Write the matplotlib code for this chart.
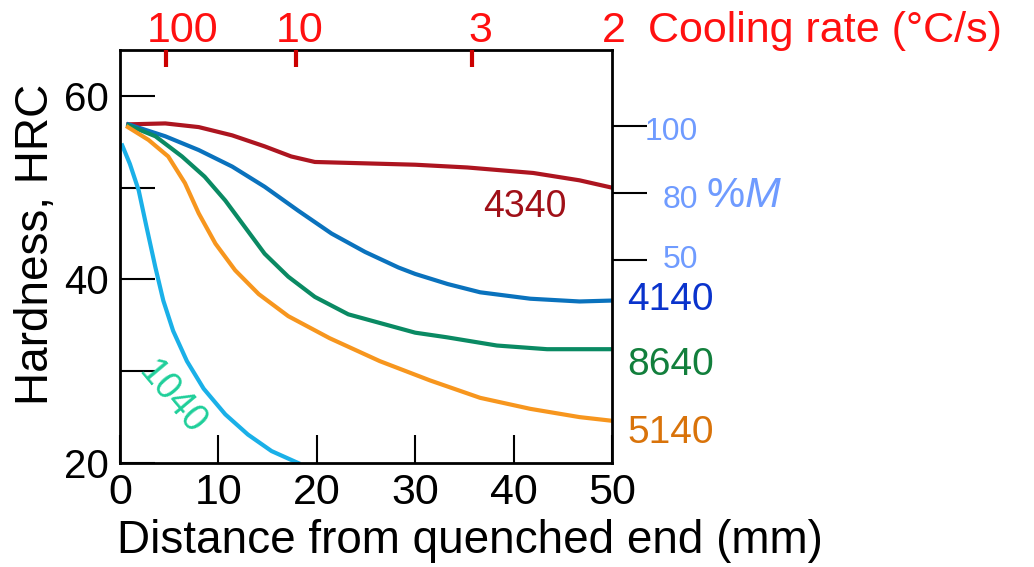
import matplotlib
matplotlib.use('Agg')
import matplotlib.pyplot as plt

plt.rcParams['font.family'] = ['Liberation Sans', 'DejaVu Sans']

# Jominy end-quench curves (distance mm, hardness HRC)
x_4340 = [0.85, 4.6, 8.0, 11.4, 14.7, 17.4, 19.8, 23.2, 30.0, 35.3, 42.0, 46.7, 50.0]
y_4340 = [56.9, 57.0, 56.6, 55.7, 54.5, 53.4, 52.8, 52.7, 52.5, 52.2, 51.6, 50.8, 50.0]

x_4140 = [0.85, 4.6, 8.0, 11.4, 14.7, 18.1, 21.5, 24.9, 28.3, 30.0, 33.3, 36.6, 41.7, 46.7, 50.0]
y_4140 = [56.9, 55.6, 54.1, 52.3, 50.1, 47.5, 45.0, 43.0, 41.3, 40.6, 39.5, 38.6, 37.9, 37.6, 37.7]

x_8640 = [0.85, 3.6, 6.3, 8.6, 10.7, 12.7, 14.7, 17.1, 19.8, 23.2, 26.6, 30.0, 33.2, 38.3, 43.4, 50.0]
y_8640 = [56.8, 55.6, 53.4, 51.2, 48.6, 45.7, 42.8, 40.3, 38.1, 36.2, 35.2, 34.2, 33.7, 32.8, 32.4, 32.4]

x_5140 = [0.8, 2.9, 4.9, 6.6, 8.0, 9.7, 11.7, 14.1, 17.1, 21.3, 26.4, 31.5, 36.6, 41.7, 46.7, 50.0]
y_5140 = [56.6, 55.2, 53.4, 50.5, 47.2, 43.9, 41.0, 38.4, 36.0, 33.6, 31.1, 29.0, 27.1, 25.9, 25.0, 24.6]

x_1040 = [0.23, 1.0, 1.9, 2.7, 3.6, 4.4, 5.4, 6.8, 8.5, 10.7, 13.0, 15.4, 18.1]
y_1040 = [54.6, 52.6, 49.7, 45.7, 41.3, 37.7, 34.4, 31.1, 28.1, 25.3, 23.1, 21.3, 20.0]

# top axis: cooling rate (°C/s) and where its ticks sit along the bar (mm)
cool_pos = [4.7, 17.9, 35.8]
cool_labels = ['100', '10', '3', '2']

# right axis: % martensite and matching hardness
mart_hrc = [56.7, 49.4, 42.1]
mart_labels = ['100', '80', '50']

W, H = 1034, 567
fig = plt.figure(figsize=(W / 100, H / 100), dpi=100)
ax = fig.add_axes([120 / W, 1 - 463 / H, 492 / W, 413 / H])


def ftext(px, py, s, **kw):
    # place a text with pixel coordinates measured from the top-left corner
    return fig.text(px / W, 1 - py / H, s, **kw)


ax.plot(x_4340, y_4340, color='#ad1520', lw=3)
ax.plot(x_4140, y_4140, color='#0a72bd', lw=3)
ax.plot(x_8640, y_8640, color='#0a8a63', lw=3)
ax.plot(x_5140, y_5140, color='#f7961e', lw=3)
ax.plot(x_1040, y_1040, color='#1ab0e8', lw=3)

ax.set_xlim(0, 50)
ax.set_ylim(20, 65)
for s in ax.spines.values():
    s.set_linewidth(2)

ax.set_xticks([0, 10, 20, 30, 40, 50])
ax.set_xticklabels(['0', '10', '20', '30', '40', '50'], fontsize=31)
ax.set_yticks([20, 30, 40, 50, 60])
ax.set_yticklabels(['20', '', '40', '', '60'], fontsize=29)
ax.tick_params(axis='x', direction='in', length=20, width=1.5, pad=7)
ax.tick_params(axis='y', direction='in', length=25, width=1.5, pad=8)

ax.set_xlabel('Distance from quenched end (mm)', fontsize=33)
ax.xaxis.set_label_coords(0.711, -0.135)
ax.set_ylabel('Hardness, HRC', fontsize=33)
ax.yaxis.set_label_coords(-0.126, 0.529)

# top cooling-rate ticks
top = ax.twiny()
top.set_xlim(ax.get_xlim())
top.set_xticks(cool_pos)
top.set_xticklabels([])
top.tick_params(axis='x', direction='in', length=12, width=3, color='#cc0000')
for s in top.spines.values():
    s.set_visible(False)
red = '#ff1010'
for px, lab in zip([183, 300, 480, 614], cool_labels):
    ftext(px, 42, lab, color=red, fontsize=31, ha='center', va='baseline')
ftext(648, 42, 'Cooling rate (°C/s)', color=red, fontsize=31, ha='left', va='baseline')

# right %M ticks
right = ax.twinx()
right.set_ylim(ax.get_ylim())
right.set_yticks(mart_hrc)
right.set_yticklabels([])
right.tick_params(axis='y', direction='out', length=25, width=1.5)
for s in right.spines.values():
    s.set_visible(False)
lblue = '#6f9bff'
for py, lab in zip([140, 208, 268], mart_labels):
    ftext(698, py, lab, color=lblue, fontsize=23, ha='right', va='baseline')
ftext(706, 207, '%', color=lblue, fontsize=31, ha='left', va='baseline')
ftext(745, 207, 'M', color=lblue, fontsize=31, style='italic', ha='left', va='baseline')

# curve labels
ftext(483, 217, '4340', color='#a01018', fontsize=27, ha='left', va='baseline')
ftext(627, 310, '4140', color='#0a33cc', fontsize=28, ha='left', va='baseline')
ftext(627, 375, '8640', color='#127f3c', fontsize=28, ha='left', va='baseline')
ftext(627, 443, '5140', color='#d9730a', fontsize=28, ha='left', va='baseline')
ftext(172, 398, '1040', color='#1fcf9a', fontsize=27, ha='center', va='center',
      rotation=-50, rotation_mode='anchor')

fig.savefig('out.png', dpi=100)
